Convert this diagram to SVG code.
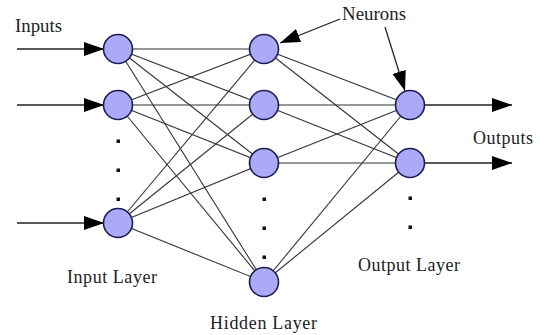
<svg xmlns="http://www.w3.org/2000/svg" width="540" height="335" viewBox="0 0 540 335">
  <style>
    .lbl { font-family: "Liberation Serif", "Times New Roman", serif; font-size: 18px; fill: #222; }
    .node { fill: #aaaaf8; stroke: #1c1c50; stroke-width: 1.6; }
    .link { stroke: #333; stroke-width: 1.1; fill: none; }
    .arr { stroke: #222; stroke-width: 1.3; fill: none; }
    .dot { fill: #111; }
  </style>
  <defs>
    <marker id="ah" markerUnits="userSpaceOnUse" markerWidth="21" markerHeight="14" refX="20" refY="7" orient="auto">
      <path d="M0,0 L20,7 L0,14 z" fill="#000"/>
    </marker>
  </defs>
  <rect width="540" height="335" fill="#fff"/>
  <g id="connectors">
    <!-- input to hidden -->
    <line class="link" x1="118" y1="49" x2="264" y2="49"/>
    <line class="link" x1="118" y1="49" x2="264" y2="105"/>
    <line class="link" x1="118" y1="49" x2="264" y2="163"/>
    <line class="link" x1="118" y1="49" x2="264" y2="282"/>
    <line class="link" x1="118" y1="105" x2="264" y2="49"/>
    <line class="link" x1="118" y1="105" x2="264" y2="105"/>
    <line class="link" x1="118" y1="105" x2="264" y2="163"/>
    <line class="link" x1="118" y1="105" x2="264" y2="282"/>
    <line class="link" x1="118" y1="223" x2="264" y2="49"/>
    <line class="link" x1="118" y1="223" x2="264" y2="105"/>
    <line class="link" x1="118" y1="223" x2="264" y2="163"/>
    <line class="link" x1="118" y1="223" x2="264" y2="282"/>
    <!-- hidden to output -->
    <line class="link" x1="264" y1="49" x2="410" y2="105"/>
    <line class="link" x1="264" y1="49" x2="410" y2="163"/>
    <line class="link" x1="264" y1="105" x2="410" y2="105"/>
    <line class="link" x1="264" y1="105" x2="410" y2="163"/>
    <line class="link" x1="264" y1="163" x2="410" y2="105"/>
    <line class="link" x1="264" y1="163" x2="410" y2="163"/>
    <line class="link" x1="264" y1="282" x2="410" y2="105"/>
    <line class="link" x1="264" y1="282" x2="410" y2="163"/>
    <!-- input arrows -->
    <line class="arr" x1="17" y1="49" x2="104" y2="49" marker-end="url(#ah)"/>
    <line class="arr" x1="17" y1="105" x2="104" y2="105" marker-end="url(#ah)"/>
    <line class="arr" x1="17" y1="223" x2="104" y2="223" marker-end="url(#ah)"/>
    <!-- output arrows -->
    <line class="arr" x1="410" y1="105" x2="512" y2="105" marker-end="url(#ah)"/>
    <line class="arr" x1="410" y1="163" x2="512" y2="163" marker-end="url(#ah)"/>
    <!-- neuron pointers -->
    <line class="arr" x1="340" y1="19" x2="280" y2="43" marker-end="url(#ah)"/>
    <line class="arr" x1="385" y1="27" x2="405" y2="91" marker-end="url(#ah)"/>
  </g>
  <g id="in1"><circle class="node" cx="118" cy="49" r="14.5"/></g>
  <g id="in2"><circle class="node" cx="118" cy="105" r="14.5"/></g>
  <g id="in3"><circle class="node" cx="118" cy="223" r="14.5"/></g>
  <g id="h1"><circle class="node" cx="264" cy="49" r="14.5"/></g>
  <g id="h2"><circle class="node" cx="264" cy="105" r="14.5"/></g>
  <g id="h3"><circle class="node" cx="264" cy="163" r="14.5"/></g>
  <g id="h4"><circle class="node" cx="264" cy="282" r="14.5"/></g>
  <g id="o1"><circle class="node" cx="410" cy="105" r="14.5"/></g>
  <g id="o2"><circle class="node" cx="410" cy="163" r="14.5"/></g>
  <g id="dots">
    <rect class="dot" x="116.5" y="139.5" width="3.5" height="3.5"/>
    <rect class="dot" x="116.5" y="168.5" width="3.5" height="3.5"/>
    <rect class="dot" x="116.5" y="197.5" width="3.5" height="3.5"/>
    <rect class="dot" x="262.5" y="197.5" width="3.5" height="3.5"/>
    <rect class="dot" x="262.5" y="226.5" width="3.5" height="3.5"/>
    <rect class="dot" x="262.5" y="255.5" width="3.5" height="3.5"/>
    <rect class="dot" x="408.5" y="196.5" width="3.5" height="3.5"/>
    <rect class="dot" x="408.5" y="225.5" width="3.5" height="3.5"/>
  </g>
  <g id="labels">
    <text class="lbl" x="15" y="32" textLength="47" lengthAdjust="spacingAndGlyphs">Inputs</text>
    <text class="lbl" x="342" y="20" textLength="64" lengthAdjust="spacingAndGlyphs">Neurons</text>
    <text class="lbl" x="473" y="144" textLength="60" lengthAdjust="spacing">Outputs</text>
    <text class="lbl" x="67" y="283" textLength="90" lengthAdjust="spacing">Input Layer</text>
    <text class="lbl" x="358" y="271" textLength="102" lengthAdjust="spacing">Output Layer</text>
    <text class="lbl" x="210" y="329" textLength="107" lengthAdjust="spacing">Hidden Layer</text>
  </g>
</svg>
